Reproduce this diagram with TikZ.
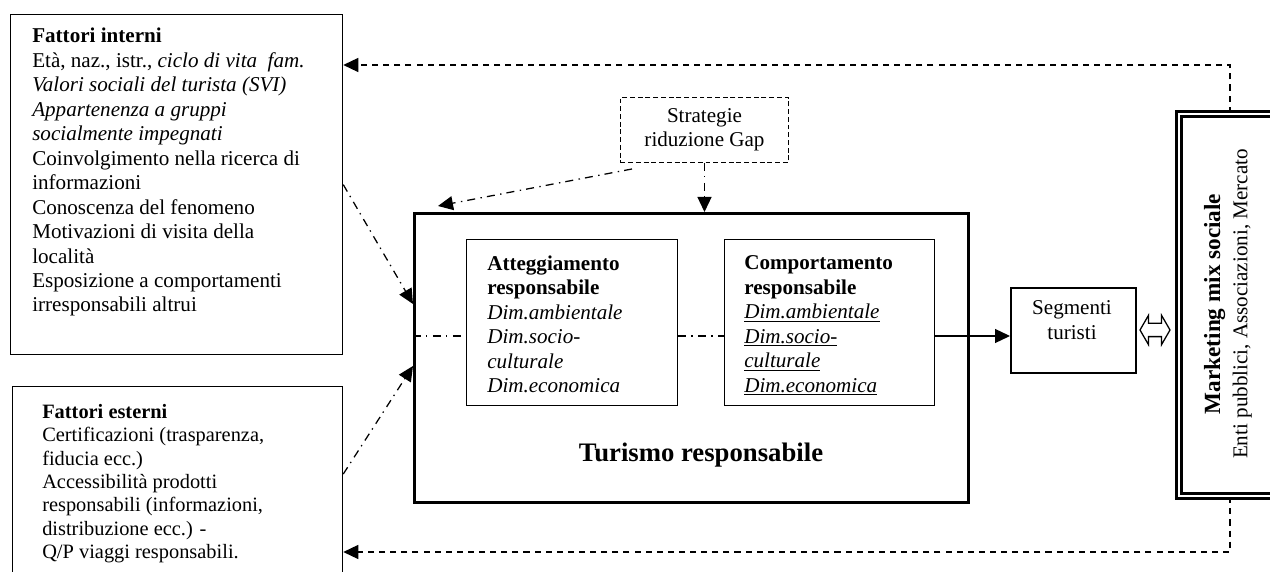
\documentclass[tikz,border=0pt]{standalone}
\usepackage{fontspec}
\setmainfont{Liberation Serif}
\usetikzlibrary{arrows.meta,shapes.arrows}

\newcommand{\boxfont}{\fontsize{15pt}{17.4pt}\selectfont}
\newcommand{\smallboxfont}{\fontsize{14.5pt}{16.6pt}\selectfont}

\tikzset{
  box/.style={draw, line width=0.9pt, anchor=north west, inner sep=0pt},
  bigbox/.style={box, line width=2.1pt},
  txt/.style={anchor=north west, inner sep=0pt, align=left, font=\boxfont},
  tip/.style={-{Triangle[length=0.375cm,width=0.35cm]}},
  dd/.style={line width=0.9pt, dash pattern=on 5.7pt off 3.6pt on 1pt off 3.9pt},
  fb/.style={line width=0.9pt, dash pattern=on 4.3pt off 3.6pt, tip}
}

\begin{document}
\begin{tikzpicture}
	\useasboundingbox (0,0) rectangle (31.75,-14.3);
	\clip (0,0) rectangle (31.75,-14.3);
	
	%fattori interni / esterni
	\node[box, minimum width=8.3cm, minimum height=8.5cm] (interni) at (0.25,-0.35) {};
	\node[txt] (interniTxt) at (0.8,-0.7) {\textbf{Fattori interni}\\
		Età, naz., istr., \textit{ciclo di vita\ \ fam.}\\
		\textit{Valori sociali del turista (SVI)}\\
		\textit{Appartenenza a gruppi}\\
		\textit{socialmente impegnati}\\
		Coinvolgimento nella ricerca di\\
		informazioni\\
		Conoscenza del fenomeno\\
		Motivazioni di visita della\\
		località\\
		Esposizione a comportamenti\\
		irresponsabili altrui};
	
	\node[box, minimum width=8.25cm, minimum height=5.35cm] (esterni) at (0.3,-9.65) {};
	\node[txt, font=\smallboxfont] (esterniTxt) at (1.05,-10.1) {\textbf{Fattori esterni}\\
		Certificazioni (trasparenza,\\
		fiducia ecc.)\\
		Accessibilità prodotti\\
		responsabili (informazioni,\\
		distribuzione ecc.) -\\
		Q/P viaggi responsabili.};
	
	%strategie
	\node[box, line width=0.7pt, dash pattern=on 3.5pt off 2pt, minimum width=4.2cm, minimum height=1.625cm, align=center, font=\boxfont] (strat) at (15.5,-2.425) {Strategie\\riduzione Gap};
	
	%turismo responsabile
	\node[bigbox, minimum width=13.85cm, minimum height=7.225cm] (big) at (10.325,-5.3) {};
	\node[box, minimum width=5.275cm, minimum height=4.15cm] (att) at (11.65,-5.975) {};
	\node[box, minimum width=5.25cm, minimum height=4.15cm] (comp) at (18.1,-5.975) {};
	\node[txt] (attTxt) at (12.175,-6.39) {\textbf{Atteggiamento}\\
		\textbf{responsabile}\\
		\textit{Dim.ambientale}\\
		\textit{Dim.socio-}\\
		\textit{culturale}\\
		\textit{Dim.economica}};
	\node[txt] (compTxt) at (18.6,-6.39) {\textbf{Comportamento}\\
		\textbf{responsabile}\\
		\underline{\textit{Dim.ambientale}}\\
		\underline{\textit{Dim.socio-}}\\
		\underline{\textit{culturale}}\\
		\underline{\textit{Dim.economica}}};
	\node[font=\fontsize{19pt}{22pt}\selectfont\bfseries] (turTxt) at (17.525,-11.375) {Turismo responsabile};
	
	%segmenti + marketing
	\node[box, line width=1.4pt, minimum width=3.125cm, minimum height=2.125cm] (seg) at (25.25,-7.175) {};
	\node[align=center, inner sep=0pt, font=\boxfont] (segTxt) at (26.8,-8.0) {Segmenti\\turisti};
	\node[double arrow, draw, line width=0.9pt, minimum height=0.75cm, double arrow head extend=0.2cm, double arrow tip angle=120, inner xsep=0pt, inner ysep=0.15cm] (dblarr) at (28.875,-8.25) {};
	
	\node[draw, double, double distance=1.8pt, line width=1.8pt, minimum width=2.55cm, minimum height=9.55cm] (market) at (30.75,-7.625) {};
	\node[rotate=90, align=center, font=\boxfont] (marketTxt) at (30.7,-7.6) {\textbf{\fontsize{16.5pt}{19pt}\selectfont Marketing mix sociale}\\[2pt]
		Enti pubblici, Associazioni, Mercato};
	
	%connectors
	\coordinate (lvl) at (0,-8.4);
	\draw[dd, tip] (interni.east) -- ([yshift=1.35cm]big.west);
	\draw[dd, tip] ([yshift=0.49cm]esterni.east) -- ([yshift=-0.2cm]big.west);
	\draw[dd] (big.west |- lvl) -- (att.west |- lvl);
	\draw[dd] (att.east |- lvl) -- (comp.west |- lvl);
	\draw[line width=0.9pt, tip] (comp.east |- lvl) -- (seg.west |- lvl);
	\draw[dd, tip] ([xshift=0.3cm,yshift=-0.15cm]strat.south west) -- ([xshift=0.625cm,yshift=0.15cm]big.north west);
	\draw[dd, tip] (strat.south) -- (strat.south |- big.north);
	
	%feedback
	\draw[fb] (market.north) |- (interni.east |- 0,-1.625);
	\draw[fb] (market.south) |- (esterni.east |- 0,-13.8);
\end{tikzpicture}
\end{document}
